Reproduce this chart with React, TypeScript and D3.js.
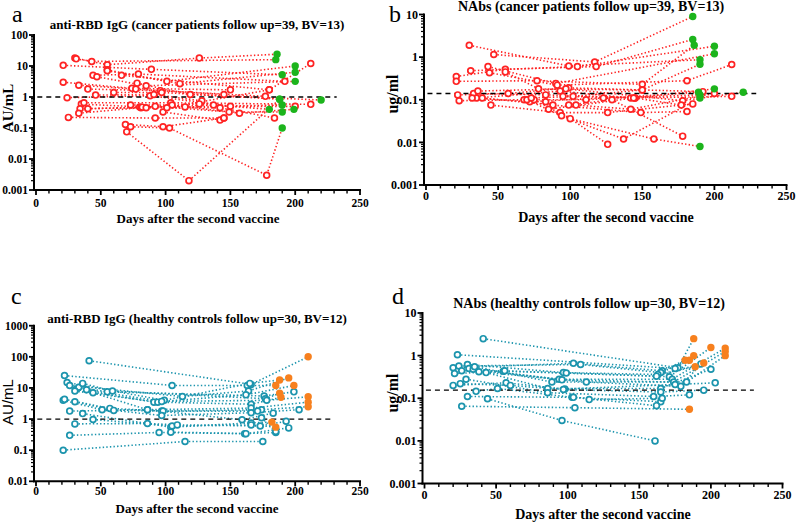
import React from 'react';
import * as d3 from 'd3';

type P = [number, number, number?];

// Panel a: anti-RBD IgG, cancer patients (day, AU/mL, booster flag)
const igCancer: P[][] = [
  [[30, 18], [55, 11], [126, 18], [186, 24, 1]],
  [[31, 17], [43, 14], [185, 16, 1]],
  [[21, 10.5], [89, 7.8], [190, 5.2, 1]],
  [[55, 7.5], [101, 3.2], [200, 10, 1]],
  [[55, 7], [111, 2.7], [200, 6.3, 1]],
  [[44, 5], [79, 5.5], [192, 3.2]],
  [[47, 4.5], [85, 2.3], [200, 3.2, 1]],
  [[66, 5], [180, 1.7], [212, 12]],
  [[21, 3], [74, 1.9], [150, 1.7]],
  [[33, 2.4], [77, 1.8], [145, 1.2]],
  [[40, 1.8], [96, 1.6], [177, 1.05]],
  [[60, 1.4], [97, 1.4], [188, 0.85, 1]],
  [[78, 2.8], [119, 1.2], [220, 0.8, 1]],
  [[24, 0.95], [88, 1.1], [150, 0.5], [200, 0.5]],
  [[46, 1.15], [91, 1.2], [128, 0.75]],
  [[35, 0.59], [80, 0.48], [115, 0.48], [190, 0.55, 1]],
  [[37, 0.65], [104, 0.65], [212, 0.58]],
  [[34, 0.42], [81, 0.45], [137, 0.55]],
  [[33, 0.3], [92, 0.5], [149, 0.33], [190, 0.33, 1]],
  [[40, 0.42], [82, 0.47], [126, 0.6], [180, 0.4, 1]],
  [[73, 0.55], [105, 0.55], [157, 0.3], [199, 0.4, 1]],
  [[85, 0.45], [142, 0.45], [184, 0.21]],
  [[98, 0.33], [142, 0.18]],
  [[25, 0.22], [92, 0.21], [145, 0.21]],
  [[70, 0.075], [118, 0.002], [188, 0.85, 1]],
  [[69, 0.13], [98, 0.11], [145, 0.21]],
  [[73, 0.11], [103, 0.1], [178, 0.003], [190, 0.1, 1]],
  [[101, 0.45], [180, 1.7]],
];

// Panel b: NAbs, cancer patients (day, ug/ml, booster flag)
const nabCancer: P[][] = [
  [[30, 1.9], [99, 0.62], [190, 0.87, 1]],
  [[47, 1.15], [117, 0.77], [185, 9, 1]],
  [[21, 0.35], [55, 0.52], [118, 0.6], [185, 2.6, 1]],
  [[21, 0.27], [77, 0.28], [150, 0.23], [186, 1.9, 1]],
  [[31, 0.48], [105, 0.6], [200, 1.8, 1]],
  [[43, 0.6], [90, 0.24], [200, 1.2, 1]],
  [[44, 0.43], [91, 0.22], [181, 0.28], [212, 0.67]],
  [[55, 0.45], [78, 0.18], [150, 0.17], [190, 0.68, 1]],
  [[22, 0.13], [57, 0.14], [99, 0.19], [192, 0.155]],
  [[23, 0.095], [68, 0.1], [111, 0.1], [189, 0.15, 1]],
  [[33, 0.14], [83, 0.13], [145, 0.11], [200, 0.18, 1]],
  [[35, 0.11], [93, 0.16], [142, 0.11], [212, 0.12]],
  [[32, 0.11], [72, 0.09], [123, 0.11], [190, 0.13, 1]],
  [[36, 0.16], [97, 0.18], [178, 0.095], [220, 0.15, 1]],
  [[39, 0.11], [88, 0.075], [149, 0.05], [181, 0.053]],
  [[45, 0.075], [93, 0.05], [126, 0.05], [185, 0.08]],
  [[70, 0.1], [94, 0.042], [137, 0.012], [190, 0.11, 1]],
  [[75, 0.1], [100, 0.036], [158, 0.012], [190, 0.008, 1]],
  [[83, 0.09], [126, 0.009]],
  [[99, 0.075], [129, 0.1], [178, 0.014]],
  [[104, 0.075], [142, 0.06], [200, 0.14]],
  [[95, 0.12], [145, 0.11], [177, 0.075]],
  [[85, 0.06], [144, 0.11]],
  [[73, 0.11], [102, 0.12], [150, 0.17]],
];

// Panel c: anti-RBD IgG, healthy controls
const igHealthy: P[][] = [
  [[41, 75], [166, 13], [210, 100, 1]],
  [[22, 25], [105, 12], [163, 12], [185, 12, 1]],
  [[24, 15], [99, 4], [165, 14], [188, 18, 1]],
  [[26, 12], [113, 5.3], [164, 8], [195, 21, 1]],
  [[31, 9], [91, 3.5], [162, 6], [199, 12, 1]],
  [[33, 10.5], [55, 7.5], [176, 5.5], [199, 7.5]],
  [[36, 14], [59, 8], [177, 4.5], [188, 6.8, 1]],
  [[30, 8], [94, 3.5], [166, 3], [189, 5, 1]],
  [[39, 8.7], [97, 3.7], [178, 4], [210, 5.2, 1]],
  [[44, 7], [86, 2], [166, 2.25], [210, 3.5, 1]],
  [[21, 4], [51, 2], [97, 1.8], [174, 2], [210, 2.5, 1]],
  [[22, 4.3], [57, 2.2], [98, 1.8], [171, 1.8]],
  [[30, 3.6], [60, 1.9], [97, 1.3], [166, 1.6], [203, 2]],
  [[26, 1.8], [86, 2], [159, 0.95], [183, 1.55]],
  [[36, 1.5], [104, 0.55], [166, 0.75], [182, 0.8, 1]],
  [[44, 0.97], [105, 0.6], [166, 0.65], [185, 0.55, 1]],
  [[30, 0.7], [86, 0.72], [109, 0.65], [173, 0.6], [193, 0.85]],
  [[26, 0.3], [95, 0.37], [161, 0.34], [185, 0.37]],
  [[21, 0.1], [115, 0.19], [175, 0.19]],
  [[104, 0.38], [162, 0.34], [195, 0.52]],
  [[174, 1.1], [185, 0.4]],
];

// Panel d: NAbs, healthy controls
const nabHealthy: P[][] = [
  [[41, 2.5], [177, 0.52], [188, 2.5, 1]],
  [[23, 1.05], [175, 0.5], [188, 1.0, 1]],
  [[20, 0.52], [104, 0.66], [166, 0.44], [182, 0.78, 1]],
  [[24, 0.57], [109, 0.62], [165, 0.4], [185, 0.78, 1]],
  [[30, 0.62], [97, 0.4], [163, 0.36], [189, 0.55, 1]],
  [[21, 0.38], [55, 0.43], [99, 0.39], [162, 0.33], [195, 0.67, 1]],
  [[26, 0.44], [56, 0.44], [171, 0.32], [200, 1.55, 1]],
  [[31, 0.5], [94, 0.28], [173, 0.28], [210, 1.5, 1]],
  [[34, 0.48], [96, 0.27], [174, 0.24], [210, 1.25, 1]],
  [[35, 0.55], [89, 0.24], [183, 0.24], [210, 1.0, 1]],
  [[38, 0.42], [113, 0.24], [179, 0.19], [193, 0.64]],
  [[43, 0.4], [86, 0.17], [165, 0.17], [200, 0.48]],
  [[20, 0.2], [57, 0.23], [98, 0.165], [175, 0.21], [203, 0.23]],
  [[25, 0.22], [60, 0.2], [97, 0.16], [165, 0.14], [195, 0.155]],
  [[29, 0.28], [86, 0.135], [160, 0.11], [185, 0.12]],
  [[36, 0.145], [51, 0.17], [103, 0.105], [165, 0.083]],
  [[30, 0.11], [104, 0.105], [162, 0.067]],
  [[44, 0.097], [96, 0.03], [161, 0.01]],
  [[26, 0.065], [105, 0.06], [185, 0.055, 1]],
  [[115, 0.093], [166, 0.1]],
];

const xTicks = [0, 50, 100, 150, 200, 250];
const cutoffs = [1, 0.14, 1, 0.155];
const titles = [
  'anti-RBD IgG (cancer patients follow up=39, BV=13)',
  'NAbs (cancer patients follow up=39, BV=13)',
  'anti-RBD IgG (healthy controls follow up=30, BV=12)',
  'NAbs (healthy controls follow up=30, BV=12)',
];
const yLabels = ['AU/mL', 'ug/ml', 'AU/mL', 'ug/ml'];
const panelLetters = ['a', 'b', 'c', 'd'];

const SERIF = '"Liberation Serif", "Times New Roman", serif';
const SANS = '"Liberation Sans", Arial, sans-serif';

interface Cfg {
  data: P[][];
  x0: number; x1: number;
  yTop: number; yBot: number;
  yMin: number; yMax: number;
  line: string; fill: string;
  cutoff: number; cutEnd: number;
  title: string; titleX: number; titleY: number; titleSize: number;
  letter: string; letterX: number; letterY: number;
  yLab: string; yLabX: number; yLabY: number; yLabFont: string; yLabWeight: string; yLabSize: number;
  xLabX: number; xLabY: number; xLabSize: number;
  tickSize: number; xTickY: number;
}

function fmt(v: number) {
  if (v >= 1) return String(Math.round(v));
  return String(+v.toPrecision(1));
}

function Panel(c: Cfg) {
  const x = d3.scaleLinear().domain([0, 250]).range([c.x0, c.x1]);
  const y = d3.scaleLog().domain([c.yMin, c.yMax]).range([c.yBot, c.yTop]);
  const line = d3.line<P>().x(p => x(p[0])).y(p => y(p[1]));
  const ax = c.x0 - 2;
  const majors: number[] = [];
  const minors: number[] = [];
  const eMin = Math.round(Math.log10(c.yMin));
  const eMax = Math.round(Math.log10(c.yMax));
  for (let e = eMin; e <= eMax; e++) {
    majors.push(Math.pow(10, e));
    if (e < eMax) for (let k = 2; k <= 9; k++) minors.push(k * Math.pow(10, e));
  }
  const xMinor: number[] = d3.range(0, 251, 10).filter(v => v % 50 !== 0);
  const pts = c.data.flat();
  return (
    <g>
      <text x={c.letterX} y={c.letterY} fontFamily={SERIF} fontSize={24}>{c.letter}</text>
      <text x={c.titleX} y={c.titleY} textAnchor="middle" fontFamily={SERIF} fontWeight="bold" fontSize={c.titleSize}>{c.title}</text>
      <text transform={`translate(${c.yLabX},${c.yLabY}) rotate(-90)`} textAnchor="middle" fontFamily={c.yLabFont} fontWeight={c.yLabWeight} fontSize={c.yLabSize}>{c.yLab}</text>
      <text x={c.xLabX} y={c.xLabY} textAnchor="middle" fontFamily={SERIF} fontWeight="bold" fontSize={c.xLabSize}>Days after the second vaccine</text>
      {/* dotted trajectories */}
      {c.data.map((t, i) => (
        <path key={'l' + i} d={line(t) || ''} fill="none" stroke={c.line} strokeWidth={1.6} strokeDasharray="1.4 2.2" />
      ))}
      {/* cutoff */}
      <line x1={x(1)} x2={x(c.cutEnd)} y1={y(c.cutoff)} y2={y(c.cutoff)} stroke="#000" strokeWidth={1.3} strokeDasharray="5 4" />
      {/* markers */}
      {pts.filter(p => !p[2]).map((p, i) => (
        <circle key={'o' + i} cx={x(p[0])} cy={y(p[1])} r={2.9} fill="#fff" stroke={c.line} strokeWidth={1.7} />
      ))}
      {pts.filter(p => p[2]).map((p, i) => (
        <circle key={'f' + i} cx={x(p[0])} cy={y(p[1])} r={3.7} fill={c.fill} />
      ))}
      {/* axes */}
      <line x1={ax} x2={ax} y1={c.yTop - 1} y2={c.yBot + 1} stroke="#000" strokeWidth={2} />
      <line x1={ax - 1} x2={c.x1 + 1} y1={c.yBot} y2={c.yBot} stroke="#000" strokeWidth={2} />
      {majors.map(v => (
        <g key={'ym' + v}>
          <line x1={ax - 5} x2={ax} y1={y(v)} y2={y(v)} stroke="#000" strokeWidth={1.8} />
          <text x={ax - 6} y={y(v)} dy="0.35em" textAnchor="end" fontFamily={SERIF} fontWeight="bold" fontSize={c.tickSize}>{fmt(v)}</text>
        </g>
      ))}
      {minors.map(v => (
        <line key={'yn' + v} x1={ax - 3} x2={ax} y1={y(v)} y2={y(v)} stroke="#000" strokeWidth={1.2} />
      ))}
      {xTicks.map(v => (
        <g key={'xm' + v}>
          <line x1={x(v)} x2={x(v)} y1={c.yBot} y2={c.yBot + 5} stroke="#000" strokeWidth={1.8} />
          <text x={x(v)} y={c.xTickY} textAnchor="middle" fontFamily={SERIF} fontWeight="bold" fontSize={c.tickSize}>{v}</text>
        </g>
      ))}
      {xMinor.map(v => (
        <line key={'xn' + v} x1={x(v)} x2={x(v)} y1={c.yBot} y2={c.yBot + 3.5} stroke="#000" strokeWidth={1.4} />
      ))}
    </g>
  );
}

const RED = '#ff2323';
const GREEN = '#1cb41c';
const TEAL = '#1b94ad';
const ORANGE = '#f7801e';

export default function App() {
  return (
    <svg width={796} height={524} style={{ position: 'fixed', left: 0, top: 0, background: '#fff' }}>
      <rect width={796} height={524} fill="#fff" />
      <Panel data={igCancer} x0={36} x1={360} yTop={35} yBot={190} yMin={0.001} yMax={100}
        line={RED} fill={GREEN} cutoff={cutoffs[0]} cutEnd={232}
        title={titles[0]} titleX={197} titleY={29} titleSize={13}
        letter={panelLetters[0]} letterX={12} letterY={22}
        yLab={yLabels[0]} yLabX={13} yLabY={108} yLabFont={SERIF} yLabWeight="bold" yLabSize={15}
        xLabX={198} xLabY={223} xLabSize={13} tickSize={11.5} xTickY={207} />
      <Panel data={nabCancer} x0={426} x1={786.5} yTop={14.5} yBot={185} yMin={0.001} yMax={10}
        line={RED} fill={GREEN} cutoff={cutoffs[1]} cutEnd={229}
        title={titles[1]} titleX={591} titleY={11} titleSize={14}
        letter={panelLetters[1]} letterX={389} letterY={22}
        yLab={yLabels[1]} yLabX={398} yLabY={94} yLabFont={SERIF} yLabWeight="bold" yLabSize={16}
        xLabX={606} xLabY={222} xLabSize={14} tickSize={12} xTickY={200} />
      <Panel data={igHealthy} x0={36} x1={360} yTop={325.7} yBot={481.3} yMin={0.01} yMax={1000}
        line={TEAL} fill={ORANGE} cutoff={cutoffs[2]} cutEnd={229}
        title={titles[2]} titleX={197} titleY={323} titleSize={13}
        letter={panelLetters[2]} letterX={11} letterY={304}
        yLab={yLabels[2]} yLabX={13} yLabY={402} yLabFont={SANS} yLabWeight="normal" yLabSize={15}
        xLabX={197} xLabY={513} xLabSize={13} tickSize={11.5} xTickY={495} />
      <Panel data={nabHealthy} x0={424.5} x1={782.5} yTop={313} yBot={483.5} yMin={0.001} yMax={10}
        line={TEAL} fill={ORANGE} cutoff={cutoffs[3]} cutEnd={230}
        title={titles[3]} titleX={589} titleY={308} titleSize={14}
        letter={panelLetters[3]} letterX={392} letterY={304}
        yLab={yLabels[3]} yLabX={398} yLabY={393} yLabFont={SERIF} yLabWeight="bold" yLabSize={16}
        xLabX={603} xLabY={519} xLabSize={14} tickSize={12} xTickY={499} />
    </svg>
  );
}
